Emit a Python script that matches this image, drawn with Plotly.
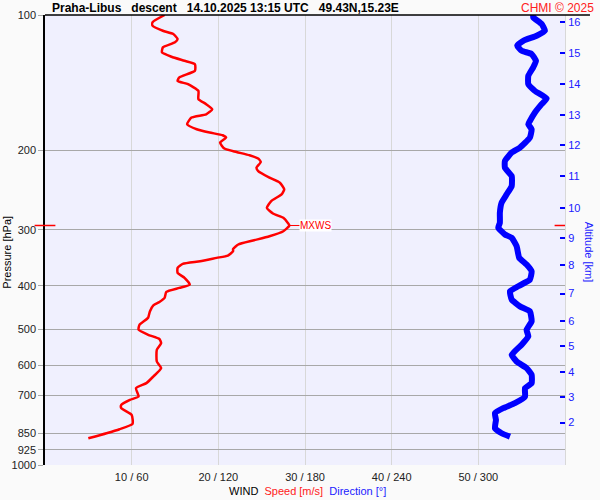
import numpy as np
import plotly.graph_objects as go

# ---- data ----
speed_p = [100, 103.8, 105.6, 108.4, 110.2, 113.1, 115.0, 118.0, 121.1, 123.8, 126.4, 128.6, 133.0,
           137.6, 140.1, 142.5, 147.5, 153.8, 157.8, 162.0, 166.2, 169.0, 174.9, 179.4, 182.5, 185.0,
           187.3, 192.1, 198.1, 201.6, 205.0, 208.5, 212.2, 218.4, 222.3, 229.9, 235.9, 244.1, 250.4,
           259.2, 268.2, 276.1, 282.3, 289.5, 293.6, 302.3, 310.2, 317.1, 323.6, 331.1, 335.0, 342.4,
           346.5, 352.6, 357.3, 364.7, 374.2, 383.9, 397.3, 404.1, 412.5, 425.3, 434.2, 441.9, 455.7,
           470.7, 488.0, 500.6, 513.6, 524.8, 535.8, 554.5, 588.8, 609.1, 635.9, 657.7, 674.9, 704.6,
           716.6, 735.3, 747.8, 773.9, 810.4, 832.7, 850.0, 872.4]
speed_ms = [13.8, 12.4, 12.4, 13.6, 14.8, 15.3, 15.0, 13.6, 13.5, 14.6, 16.1, 17.3, 17.3,
            15.5, 15.3, 16.5, 17.7, 17.7, 18.6, 19.3, 18.6, 16.9, 16.4, 17.5, 19.0, 20.5,
            20.9, 20.2, 20.7, 22.1, 23.6, 24.6, 24.9, 24.4, 24.6, 25.9, 27.1, 27.6, 27.3,
            26.1, 25.6, 26.3, 27.5, 28.0, 28.2, 27.5, 25.9, 24.0, 22.3, 21.7, 21.7, 21.1,
            19.8, 17.9, 15.9, 15.3, 15.3, 16.1, 16.7, 15.5, 14.0, 13.8, 13.2, 12.5, 12.1,
            11.9, 10.9, 10.8, 11.9, 13.2, 13.4, 12.9, 12.9, 13.4, 12.5, 11.7, 10.5, 10.8,
            9.8, 8.8, 8.8, 10.0, 10.1, 8.6, 7.1, 5.0]

dir_p = [100, 101.2, 104.7, 108.4, 111.2, 114.1, 117.0, 120.1, 122.1, 126.4, 130.7, 136.5, 142.5,
         147.5, 153.3, 157.8, 164.7, 172.0, 174.9, 179.4, 187.3, 197.1, 202.2, 211.1, 218.4, 228.0,
         240.0, 250.4, 261.3, 275.1, 289.5, 297.0, 307.4, 312.7, 326.4, 346.5, 358.6, 371.2, 387.3,
         400.7, 411.1, 429.1, 444.1, 455.7, 479.5, 500.6, 518.1, 540.5, 568.9, 588.8, 609.1, 630.4,
         657.7, 674.9, 704.6, 728.9, 747.8, 767.3, 794.0, 828.5, 850.0, 865.0]
dir_deg = [338.0, 338.0, 343.8, 346.1, 340.4, 331.1, 326.9, 330.0, 336.9, 339.9, 338.0, 334.6, 334.6,
           339.2, 347.3, 343.8, 339.2, 335.7, 334.6, 336.9, 335.7, 328.8, 323.1, 318.4, 318.4, 323.1,
           323.1, 319.6, 316.1, 314.9, 314.9, 313.8, 318.4, 323.1, 326.5, 328.3, 333.4, 336.9, 335.7,
           327.6, 321.9, 323.1, 328.8, 335.7, 336.9, 333.4, 334.6, 330.0, 323.1, 326.5, 333.4, 336.9,
           336.9, 332.3, 332.3, 325.3, 317.2, 311.5, 312.2, 311.5, 316.1, 321.9]

p_ticks = [100, 200, 300, 400, 500, 600, 700, 850, 925, 1000]
x_ticks = [10, 20, 30, 40, 50, 60]
x_ticktext = ["10 / 60", "20 / 120", "30 / 180", "40 / 240", "50 / 300", ""]
alt_km = [2, 3, 4, 5, 6, 7, 8, 9, 10, 11, 12, 13, 14, 15, 16]
alt_p = [805.0, 706.8, 620.7, 545.1, 478.6, 416.0, 359.2, 313.3, 268.2, 228.4, 194.4, 167.2, 142.4, 121.5, 103.8]

mxws_speed = 28.2
mxws_p = 293.6

FONT = "Arial, Liberation Sans, sans-serif"
RED = "#ff0000"
BLUE = "#0000ff"

fig = go.Figure()
fig.add_trace(go.Scatter(x=speed_ms, y=speed_p, mode="lines",
                         line=dict(color=RED, width=2.5, shape="spline", smoothing=0.5),
                         hoverinfo="skip", showlegend=False))
# direction plotted on the same 0-60 scale (0-360 degrees)
fig.add_trace(go.Scatter(x=[d / 6.0 for d in dir_deg], y=dir_p, mode="lines",
                         line=dict(color=BLUE, width=6, shape="spline", smoothing=0.4),
                         yaxis="y2", hoverinfo="skip", showlegend=False, cliponaxis=False))

fig.update_layout(
    template="none",
    width=600, height=500, autosize=False,
    margin=dict(l=45, r=35, t=15, b=35, autoexpand=False),
    paper_bgcolor="#fafafa", plot_bgcolor="#f0f0fe",
    font=dict(family=FONT, size=11, color="#222222"),
    xaxis=dict(range=[0, 60], tickmode="array", tickvals=x_ticks, ticktext=x_ticktext,
               showgrid=True, gridcolor="#d8d8d8", gridwidth=1, zeroline=False, automargin=False,
               showline=False, ticks="", tickfont=dict(size=11, color="#222222"),
               ticklabelstandoff=4),
    yaxis=dict(type="log", range=[3, 2], tickmode="array", tickvals=p_ticks, automargin=False,
               ticktext=[str(v) for v in p_ticks], showgrid=True, gridcolor="#a8a8a8",
               gridwidth=1, zeroline=False, showline=True, linecolor="#000000", linewidth=1.5,
               ticks="outside", ticklen=5, tickcolor="#a8a8a8", tickwidth=1,
               tickfont=dict(size=11, color="#222222")),
    yaxis2=dict(type="log", range=[3, 2], overlaying="y", side="right", anchor="x", automargin=False,
                tickmode="array", tickvals=alt_p, ticktext=[str(v) for v in alt_km],
                showgrid=False, zeroline=False, showline=True, linecolor="#d8d8d8",
                ticks="inside", ticklen=5, tickwidth=2, tickcolor=BLUE,
                tickfont=dict(size=11, color="#2020ff")),
)

# top border line
fig.add_shape(type="line", xref="paper", yref="paper", x0=0, x1=1.048, y0=1, y1=1,
              line=dict(color="#000000", width=1.5))
# MXWS markers on both sides
fig.add_shape(type="line", xref="paper", yref="y", x0=-0.02, x1=0.02, y0=mxws_p, y1=mxws_p,
              line=dict(color=RED, width=1.5))
fig.add_shape(type="line", xref="paper", yref="y", x0=0.98, x1=1.0, y0=mxws_p, y1=mxws_p,
              line=dict(color=RED, width=1.5))

fig.add_annotation(x=mxws_speed, y=np.log10(mxws_p), xref="x", yref="y", text="MXWS",
                   showarrow=True, arrowhead=0, arrowcolor=RED, arrowwidth=1, ax=10, ay=0,
                   xanchor="left", yanchor="middle", bgcolor="#ffffff", borderpad=0,
                   font=dict(size=10, color=RED, family=FONT))

fig.add_annotation(x=0.0096, y=1.0156, xref="paper", yref="paper", xanchor="left", yanchor="middle",
                   text="<b>Praha-Libus\u00a0\u00a0\u00a0descent\u00a0\u00a0\u00a014.10.2025 13:15 UTC\u00a0\u00a0\u00a049.43N,15.23E</b>",
                   showarrow=False, font=dict(size=12, color="#000000", family=FONT))
fig.add_annotation(x=1.0596, y=1.0156, xref="paper", yref="paper", xanchor="right", yanchor="middle",
                   text="CHMI © 2025", showarrow=False, font=dict(size=12, color="#ff2020", family=FONT))
fig.add_annotation(x=-0.0721, y=0.473, xref="paper", yref="paper", textangle=-90,
                   xanchor="center", yanchor="middle",
                   text="Pressure [hPa]", showarrow=False, font=dict(size=11, color="#000000", family=FONT))
fig.add_annotation(x=1.046, y=0.472, xref="paper", yref="paper", textangle=90,
                   xanchor="center", yanchor="middle",
                   text="Altitude [km]", showarrow=False, font=dict(size=11, color="#2020ff", family=FONT))
fig.add_annotation(x=0.504, y=-0.058, xref="paper", yref="paper", xanchor="center", yanchor="middle",
                   text="WIND\u00a0\u00a0<span style='color:#ff2020'>Speed [m/s]</span>\u00a0\u00a0<span style='color:#2020ff'>Direction [°]</span>",
                   showarrow=False, font=dict(size=11, color="#000000", family=FONT))

fig.write_html("out.html", config={"displayModeBar": False},
               post_script="document.body.style.margin='0';")
